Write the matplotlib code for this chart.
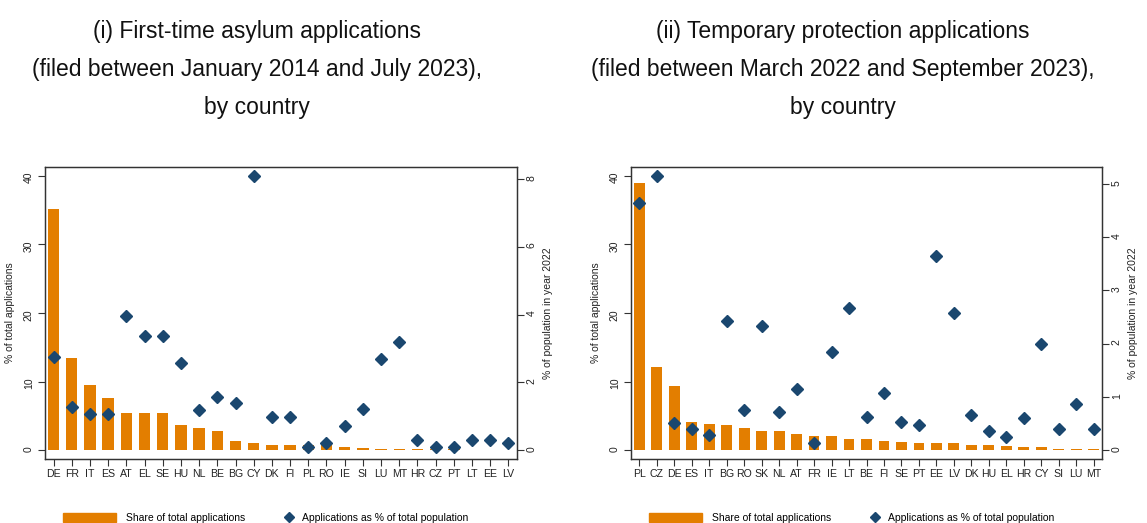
import matplotlib
matplotlib.use('Agg')
import matplotlib.pyplot as plt
from matplotlib.patches import Patch
from matplotlib.lines import Line2D

plt.rcParams['font.family'] = ['Liberation Sans', 'DejaVu Sans']

#__DATA__
# (i) first-time asylum applications, Jan 2014 - Jul 2023
asylum_countries = ['DE', 'FR', 'IT', 'ES', 'AT', 'EL', 'SE', 'HU', 'NL', 'BE', 'BG', 'CY', 'DK',
                    'FI', 'PL', 'RO', 'IE', 'SI', 'LU', 'MT', 'HR', 'CZ', 'PT', 'LT', 'EE', 'LV']
asylum_share = [35.1, 13.5, 9.5, 7.6, 5.4, 5.4, 5.4, 3.7, 3.2, 2.8, 1.3, 1.0, 0.8,
                0.8, 0.7, 0.7, 0.5, 0.35, 0.2, 0.2, 0.15, 0.1, 0.1, 0.05, 0.05, 0.03]
asylum_pop = [2.75, 1.27, 1.07, 1.07, 3.95, 3.36, 3.36, 2.56, 1.19, 1.58, 1.38, 8.09, 0.99,
              0.99, 0.1, 0.2, 0.7, 1.2, 2.69, 3.2, 0.3, 0.1, 0.1, 0.3, 0.3, 0.2]

# (ii) temporary protection applications, Mar 2022 - Sep 2023
tp_countries = ['PL', 'CZ', 'DE', 'ES', 'IT', 'BG', 'RO', 'SK', 'NL', 'AT', 'FR', 'IE', 'LT', 'BE',
                'FI', 'SE', 'PT', 'EE', 'LV', 'DK', 'HU', 'EL', 'HR', 'CY', 'SI', 'LU', 'MT']
tp_share = [39.0, 12.1, 9.3, 4.1, 3.75, 3.7, 3.15, 2.8, 2.8, 2.3, 2.1, 2.1, 1.65, 1.6,
            1.3, 1.2, 1.1, 1.05, 1.05, 0.8, 0.75, 0.6, 0.5, 0.45, 0.2, 0.15, 0.1]
tp_pop = [4.64, 5.15, 0.5, 0.39, 0.28, 2.42, 0.75, 2.34, 0.71, 1.15, 0.13, 1.84, 2.66, 0.63,
          1.08, 0.53, 0.48, 3.65, 2.58, 0.66, 0.36, 0.24, 0.6, 1.99, 0.4, 0.86, 0.4]

titles = ['(i) First-time asylum applications\n(filed between January 2014 and July 2023),\nby country',
          '(ii) Temporary protection applications\n(filed between March 2022 and September 2023),\nby country']
left_ticks = [0, 10, 20, 30, 40]
right_ticks = [[0, 2, 4, 6, 8], [0, 1, 2, 3, 4, 5]]

ORANGE = '#E37E00'
NAVY = '#1A476F'
FRAME = '#333333'

W, H = 1147, 523
fig = plt.figure(figsize=(W / 100, H / 100), dpi=100)

# axes boxes in pixels: left, right
boxes = [(45, 517), (631, 1102)]
top_px, bot_px = 167, 459

panels = [(asylum_countries, asylum_share, asylum_pop),
          (tp_countries, tp_share, tp_pop)]

for i, (cats, share, pop) in enumerate(panels):
    x0, x1 = boxes[i]
    ax = fig.add_axes([x0 / W, 1 - bot_px / H, (x1 - x0) / W, (bot_px - top_px) / H])
    xs = list(range(len(cats)))

    ax.bar(xs, share, width=0.62, color=ORANGE, zorder=2)
    ax.set_xlim(-0.47, len(cats) - 0.53)
    ax.set_ylim(-1.3, 41.3)
    ax.set_xticks(xs)
    ax.set_xticklabels(cats)
    ax.set_yticks(left_ticks)
    ax.set_ylabel('% of total applications', fontsize=7.5, color='#222222')
    ax.yaxis.set_label_coords(-30 / (x1 - x0), 0.5)
    ax.tick_params(axis='x', length=5, width=0.8, color=FRAME, labelsize=7.6, pad=2.5, labelcolor='#222222')
    ax.tick_params(axis='y', length=5, width=0.8, color=FRAME, labelsize=7.5, pad=3,
                   labelrotation=90, labelcolor='#222222')
    for s in ax.spines.values():
        s.set_color(FRAME)
        s.set_linewidth(0.9)

    # second axis: applications as % of population
    ax2 = ax.twinx()
    k = max(pop) / 40.0
    ax2.plot(xs, pop, linestyle='none', marker='D', markersize=6.2, color=NAVY, zorder=3)
    ax2.set_ylim(-1.3 * k, 41.3 * k)
    ax2.set_yticks(right_ticks[i])
    ax2.set_ylabel('% of population in year 2022', fontsize=7.5, color='#222222')
    ax2.yaxis.set_label_coords(1 + 26 / (x1 - x0), 0.5)
    ax2.tick_params(axis='y', length=5, width=0.8, color=FRAME, labelsize=7.5, pad=2,
                    labelrotation=90, labelcolor='#222222')
    for s in ax2.spines.values():
        s.set_color(FRAME)
        s.set_linewidth(0.9)

    # title sits a bit left of the plot centre, like the original
    ax.set_title(titles[i], fontsize=16.5, linespacing=1.83, pad=38, color='#111111',
                 x=0.5 - 24 / (x1 - x0))

    # legend below each panel (two pieces so the diamond sits next to its text)
    leg1 = fig.legend(handles=[Patch(color=ORANGE, label='Share of total applications')],
                      loc='center left', bbox_to_anchor=((x0 + 18) / W, 1 - 518 / H),
                      frameon=False, fontsize=7.5, handlelength=5.1, handleheight=1.05,
                      handletextpad=0.95, borderpad=0, borderaxespad=0)
    leg2 = fig.legend(handles=[Line2D([], [], linestyle='none', marker='D', markersize=5.5, color=NAVY,
                                      label='Applications as % of total population')],
                      loc='center left', bbox_to_anchor=((x0 + 239) / W, 1 - 518 / H),
                      frameon=False, fontsize=7.5, handlelength=1.0,
                      handletextpad=0.7, borderpad=0, borderaxespad=0)

fig.savefig('out.png', dpi=100, facecolor='white')
